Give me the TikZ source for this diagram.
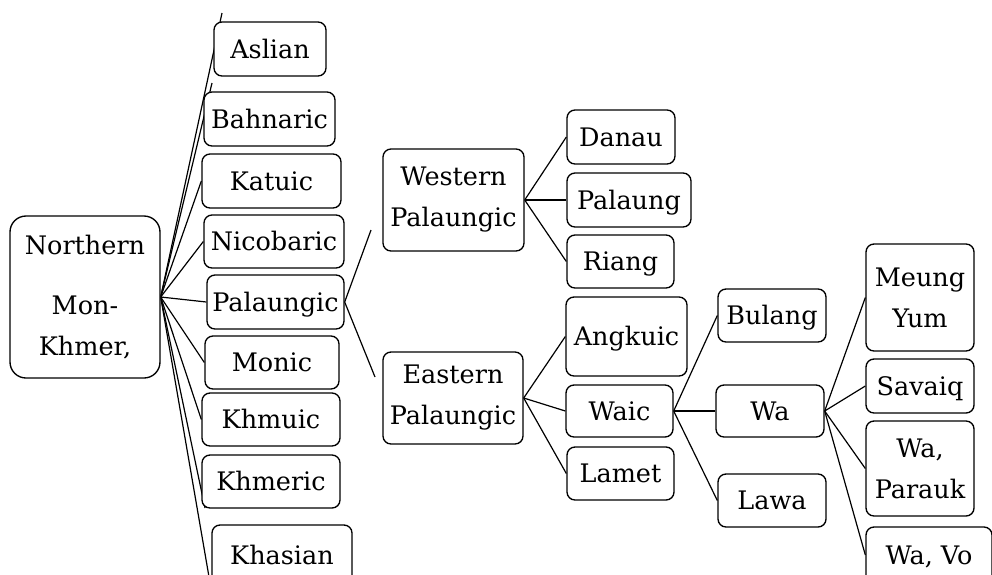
\documentclass[tikz,border=0pt]{standalone}
\usepackage{fontspec}
\setmainfont{DejaVu Serif}
\pgfdeclarelayer{bg}
\pgfsetlayers{bg,main}
\begin{document}
\begin{tikzpicture}[x=1pt,y=-1pt,
  box/.style={draw=black, fill=white, line width=1.35pt, rounded corners=8pt,
    inner sep=0pt, font=\fontsize{25.5pt}{41pt}\selectfont, align=center},
  one/.style={box, text height=18.5pt, text depth=0pt},
  link/.style={line width=1.2pt, draw=black}]
\useasboundingbox (0,0) rectangle (992,574);
\clip (0,0) rectangle (992,574);

% level 0
\node[box, rounded corners=16pt, minimum width=150pt, minimum height=162pt] (nmk) at (85,297) {Northern\\[19pt]Mon-\\Khmer,};

% level 1
\node[one, minimum width=112pt, minimum height=54pt] (aslian) at (270,49) {Aslian};
\node[one, minimum width=131pt, minimum height=54pt] (bahnaric) at (269.5,119) {Bahnaric};
\node[one, minimum width=139pt, minimum height=54pt] (katuic) at (271.5,181) {Katuic};
\node[one, minimum width=140pt, minimum height=53pt] (nicobaric) at (274,241.5) {Nicobaric};
\node[one, minimum width=137pt, minimum height=54pt] (palaungic) at (275.5,302) {Palaungic};
\node[one, minimum width=134pt, minimum height=53pt] (monic) at (272,362.5) {Monic};
\node[one, minimum width=138pt, minimum height=53pt] (khmuic) at (271,419.5) {Khmuic};
\node[one, minimum width=138pt, minimum height=53pt] (khmeric) at (271,481.5) {Khmeric};
\node[one, minimum width=140pt, minimum height=60pt] (khasian) at (282,555) {Khasian};

% level 2
\node[box, minimum width=141pt, minimum height=102pt] (wp) at (453.5,200) {Western\\Palaungic};
\node[box, minimum width=140pt, minimum height=92pt] (ep) at (453,398) {Eastern\\Palaungic};

% level 3
\node[one, minimum width=108pt, minimum height=54pt] (danau) at (621,137) {Danau};
\node[one, minimum width=124pt, minimum height=54pt] (palaung) at (629,200) {Palaung};
\node[one, minimum width=107pt, minimum height=53pt] (riang) at (620.5,261.5) {Riang};
\node[one, minimum width=121pt, minimum height=79pt] (angkuic) at (626.5,336.5) {Angkuic};
\node[one, minimum width=107pt, minimum height=52pt] (waic) at (619.5,411) {Waic};
\node[one, minimum width=107pt, minimum height=53pt] (lamet) at (620.5,473.5) {Lamet};

% level 4
\node[one, minimum width=108pt, minimum height=53pt] (bulang) at (772,315.5) {Bulang};
\node[one, minimum width=108pt, minimum height=52pt] (wa) at (770,411) {Wa};
\node[one, minimum width=108pt, minimum height=53pt] (lawa) at (772,500.5) {Lawa};

% level 5
\node[box, minimum width=108pt, minimum height=107pt] (meung) at (920,297.5) {Meung\\Yum};
\node[one, minimum width=108pt, minimum height=54pt] (savaiq) at (920,386) {Savaiq};
\node[box, minimum width=108pt, minimum height=95pt] (parauk) at (920,468.5) {Wa,\\Parauk};
\node[one, minimum width=126pt, minimum height=56pt] (wavo) at (929,555) {Wa, Vo};

% free ends
\coordinate (e1) at (222,13);
\coordinate (e3) at (212,83);
\coordinate (e9) at (205,508);
\coordinate (e10) at (213,600);
\coordinate (ewp) at (371,230);
\coordinate (eep) at (375,377);

\begin{pgfonlayer}{bg}
\foreach \t in {e1,e3,katuic.west,nicobaric.west,palaungic.west,monic.west,khmuic.west,e9,e10}
  \draw[link] (nmk.east) -- (\t);
\draw[link] (palaungic.east) -- (ewp);
\draw[link] (palaungic.east) -- (eep);
\foreach \t in {danau,palaung,riang}
  \draw[link] (wp.east) -- (\t.west);
\foreach \t in {angkuic,waic,lamet}
  \draw[link] (ep.east) -- (\t.west);
\foreach \t in {bulang,wa,lawa}
  \draw[link] (waic.east) -- (\t.west);
\foreach \t in {meung,savaiq,parauk,wavo}
  \draw[link] (wa.east) -- (\t.west);
\end{pgfonlayer}
\end{tikzpicture}
\end{document}
